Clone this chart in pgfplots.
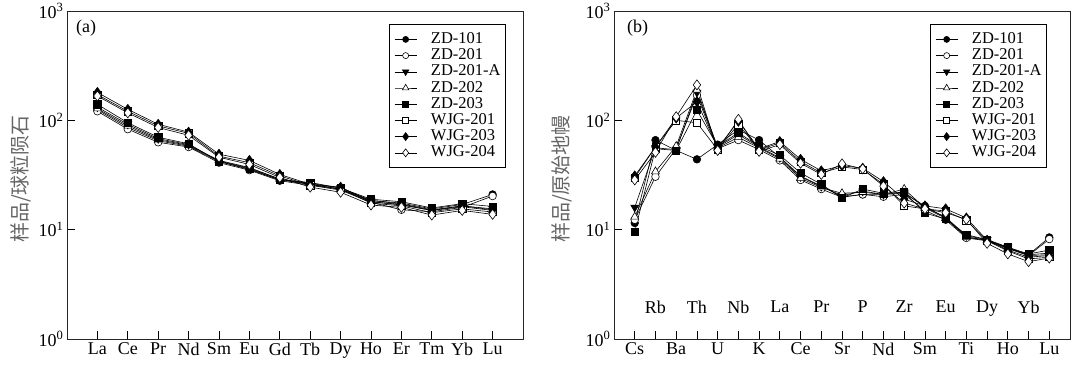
\documentclass[border=0pt]{standalone}
\usepackage{pgfplots}
\pgfplotsset{compat=1.18}
\usepackage{pgfplotstable}
\usepackage{fontspec}
\setmainfont{Liberation Serif}
\newfontfamily\cjk{Noto Sans CJK SC}

\pgfplotstableread{
x ZDa ZDb ZDbA ZDc ZDd WJa WJb WJc
0 125 121 132 128 140 172 180 167
1 86 83 92 89 95 121 126 117
2 65 63 68 66.5 70 89 92 86
3 58 57 60 59 61 76 78 73
4 42 41 42.5 43 42 47 49 46
5 35.5 35 36.5 37 36 41 43 39.5
6 28.5 28 29 29 28.5 31 32 30
7 26 25.5 26.5 26 27 25.5 26 24.5
8 23.5 23 24 23.5 24 23.5 24.5 22
9 18.5 17.8 18.5 18 19 17.5 18 16.8
10 17.5 15.2 17.2 16.8 18 16.5 17 16
11 15.5 14.6 15.2 15 15.8 14.3 15 13.6
12 17 16 16.5 16.2 17.3 15.5 16.5 15
13 21 20.3 15.5 15 16.3 14.5 15.2 13.8
}\tabA

\pgfplotstableread{
x ZDa ZDb ZDbA ZDc ZDd WJa WJb WJc
0 11.5 12.3 16 13.1 9.6 30 31 28.5
1 66 30.5 56 34 55 57 57 51
2 53 55 54 58 53 100 105 108
3 44 170 180 190 124 95 148 211
4 60 55 57 56 58 54 56 53
5 82 66 74 70 77 92 98 102
6 66 54 57 56 58 54 55 52
7 46 43 45.5 44.5 48 62 64 60
8 31 28.5 30.5 29.5 33 42 44 40.5
9 25 23.5 24.8 24.3 26 33 34.5 32
10 20 19.8 20.5 21.5 19.5 37.5 38.5 40
11 21 21 22.5 22 23.5 35.5 36.5 36
12 21 20 21 21 21.5 26 27.5 25
13 21.5 21 22 23.5 22 16.5 19 17.5
14 16.5 15 16 15.8 14.2 15.5 16.5 15.5
15 12.8 12.3 13 12.7 12.5 14.8 15.5 14.3
16 8.6 8.4 8.8 8.5 9.0 12.2 12.8 12.4
17 8.0 7.9 8.1 8.0 8.1 7.9 8.0 7.5
18 6.8 6.7 6.9 6.8 6.9 6.4 6.5 6.0
19 5.9 5.8 5.9 5.8 6.0 5.4 5.6 5.1
20 8.5 8.2 6.1 5.9 6.5 5.6 5.8 5.5
}\tabB

\tikzset{
  sA/.style={black, line width=0.6pt, mark=*, mark size=3.8pt, mark options={solid, fill=black}},
  sB/.style={black, line width=0.6pt, mark=*, mark size=3.8pt, mark options={solid, fill=white}},
  sC/.style={black, line width=0.6pt, mark=triangle*, mark size=4.6pt, mark options={solid, fill=black, rotate=180}},
  sD/.style={black, line width=0.6pt, mark=triangle*, mark size=4.6pt, mark options={solid, fill=white}},
  sE/.style={black, line width=0.6pt, mark=square*, mark size=3.6pt, mark options={solid, fill=black}},
  sF/.style={black, line width=0.6pt, mark=square*, mark size=3.6pt, mark options={solid, fill=white}},
  sG/.style={black, line width=0.6pt, mark=diamond*, mark size=5pt, mark options={solid, fill=black}},
  sH/.style={black, line width=0.6pt, mark=diamond*, mark size=5pt, mark options={solid, fill=white}},
}

\begin{document}
\begin{tikzpicture}
\path[use as bounding box] (0,0) rectangle (1073pt,369pt);

\begin{axis}[
  width=456pt, height=328pt, scale only axis,
  at={(67pt,30pt)},
  ymode=log, ymin=1, ymax=1000,
  ytick={1,10,100,1000},
  yticklabels={10\textsuperscript{0},10\textsuperscript{1},10\textsuperscript{2},10\textsuperscript{3}},
  yminorticks=false,
  tick align=inside, major tick length=8pt,
  xtick pos=bottom, ytick pos=left,
  axis line style={line width=0.9pt, black!85},
  major tick style={line width=0.8pt, black},
  tick label style={font=\fontsize{18}{18}\selectfont},
  xmin=-1, xmax=14,
  xtick={0,...,13},
  xticklabels={La,Ce,Pr,Nd,Sm,Eu,Gd,Tb,Dy,Ho,Er,Tm,Yb,Lu},
  ylabel={样品/球粒陨石},
  ylabel style={at={(rel axis cs:0,0.5)}, anchor=center, yshift=46pt, xshift=-4pt,
      font=\cjk\fontsize{20}{20}\selectfont, text=black!60},
  legend cell align=left,
  legend image code/.code={\draw[mark repeat=2, mark phase=2, every mark/.append style={scale=0.8}] plot coordinates {(0pt,0pt) (11pt,0pt) (22pt,0pt)}; \path (36pt,0pt);},
  legend style={font=\fontsize{16.5}{16.5}\selectfont, draw=black, line width=0.8pt,
      at={(rel axis cs:1,1)}, anchor=north east, xshift=-17pt, yshift=-13pt,
      inner xsep=5pt, inner ysep=8pt,
      nodes={inner sep=0pt, text height=11pt, text depth=3pt},
      row sep=2.2pt},
]
\addplot[sA] table[x=x,y=ZDa]{\tabA};
\addplot[sB] table[x=x,y=ZDb]{\tabA};
\addplot[sC] table[x=x,y=ZDbA]{\tabA};
\addplot[sD] table[x=x,y=ZDc]{\tabA};
\addplot[sE] table[x=x,y=ZDd]{\tabA};
\addplot[sF] table[x=x,y=WJa]{\tabA};
\addplot[sG] table[x=x,y=WJb]{\tabA};
\addplot[sH] table[x=x,y=WJc]{\tabA};
\legend{ZD-101,ZD-201,ZD-201-A,ZD-202,ZD-203,WJG-201,WJG-203,WJG-204}
\node[anchor=north west, font=\fontsize{18}{18}\selectfont, inner sep=0pt, xshift=9pt, yshift=-9pt] at (rel axis cs:0,1) {(a)};
\end{axis}

\begin{axis}[
  width=456pt, height=328pt, scale only axis,
  at={(614pt,30pt)},
  ymode=log, ymin=1, ymax=1000,
  ytick={1,10,100,1000},
  yticklabels={10\textsuperscript{0},10\textsuperscript{1},10\textsuperscript{2},10\textsuperscript{3}},
  yminorticks=false,
  tick align=inside, major tick length=8pt,
  xtick pos=bottom, ytick pos=left,
  axis line style={line width=0.9pt, black!85},
  major tick style={line width=0.8pt, black},
  tick label style={font=\fontsize{18}{18}\selectfont},
  xmin=-1, xmax=21,
  xtick={0,2,...,20},
  xticklabels={Cs,Ba,U,K,Ce,Sr,Nd,Sm,Ti,Ho,Lu},
  extra x ticks={1,3,...,19},
  extra x tick labels={Rb,Th,Nb,La,Pr,P,Zr,Eu,Dy,Yb},
  extra x tick style={grid=none, xticklabel style={yshift=42pt}},
  ylabel={样品/原始地幔},
  ylabel style={at={(rel axis cs:0,0.5)}, anchor=center, yshift=52pt, xshift=-4pt,
      font=\cjk\fontsize{20}{20}\selectfont, text=black!60},
  legend cell align=left,
  legend image code/.code={\draw[mark repeat=2, mark phase=2, every mark/.append style={scale=0.8}] plot coordinates {(0pt,0pt) (11pt,0pt) (22pt,0pt)}; \path (36pt,0pt);},
  legend style={font=\fontsize{16.5}{16.5}\selectfont, draw=black, line width=0.8pt,
      at={(rel axis cs:1,1)}, anchor=north east, xshift=-23pt, yshift=-13pt,
      inner xsep=5pt, inner ysep=8pt,
      nodes={inner sep=0pt, text height=11pt, text depth=3pt},
      row sep=2.2pt},
]
\addplot[sA] table[x=x,y=ZDa]{\tabB};
\addplot[sB] table[x=x,y=ZDb]{\tabB};
\addplot[sC] table[x=x,y=ZDbA]{\tabB};
\addplot[sD] table[x=x,y=ZDc]{\tabB};
\addplot[sE] table[x=x,y=ZDd]{\tabB};
\addplot[sF] table[x=x,y=WJa]{\tabB};
\addplot[sG] table[x=x,y=WJb]{\tabB};
\addplot[sH] table[x=x,y=WJc]{\tabB};
\legend{ZD-101,ZD-201,ZD-201-A,ZD-202,ZD-203,WJG-201,WJG-203,WJG-204}
\node[anchor=north west, font=\fontsize{18}{18}\selectfont, inner sep=0pt, xshift=13pt, yshift=-9pt] at (rel axis cs:0,1) {(b)};
\end{axis}
\end{tikzpicture}
\end{document}
